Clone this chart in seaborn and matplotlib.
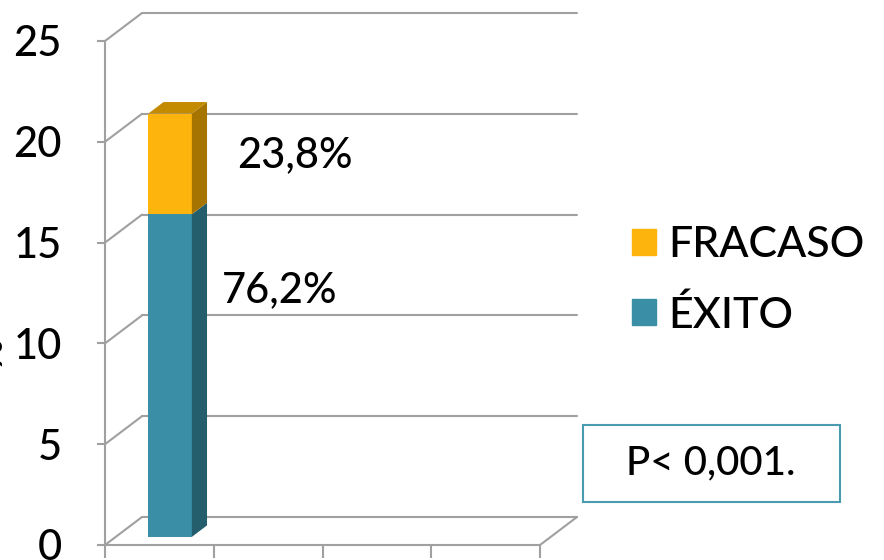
import numpy as np
import pandas as pd
import matplotlib
matplotlib.use("Agg")
import matplotlib.pyplot as plt
from matplotlib.patches import Polygon, Patch, Rectangle
import seaborn as sns

# ── Data ────────────────────────────────────────────────────────────────────
categories = ["Pacientes"]
exito = [16]
fracaso = [5]
series_names = ["FRACASO", "ÉXITO"]
y_ticks = [0, 5, 10, 15, 20, 25]
p_text = "P< 0,001."

# ── Palette ─────────────────────────────────────────────────────────────────
YELLOW = "#FDB50E"
YELLOW_TOP = "#C48A00"
YELLOW_SIDE = "#A67400"
TEAL = "#3A8FA6"
TEAL_SIDE = "#245D6B"
GRID = "#A0A0A0"
BOX = "#4A9AB0"

sns.set_theme(style="white")
plt.rcParams["font.family"] = ["Lato", "DejaVu Sans"]
plt.rcParams["font.weight"] = "medium"
plt.rcParams["text.color"] = "black"

W, H = 884, 560
fig = plt.figure(figsize=(W / 100, H / 100), dpi=100, facecolor="white")
ax = fig.add_axes([105 / W, 15 / H, 435 / W, 504 / H])
ax.set_facecolor("none")
ax.set_xlim(0, 4)
ax.set_ylim(0, 25)

# depth of the 3D box, in data units
DX = 37 / 435 * 4
DY = 28 / 504 * 25

# back wall, side wall and floor
for v in y_ticks:
    ax.plot([DX, 4 + DX], [v + DY, v + DY], color=GRID, lw=1.5, clip_on=False, zorder=1)
    ax.plot([0, DX], [v, v + DY], color=GRID, lw=1.5, clip_on=False, zorder=1)
ax.plot([4, 4 + DX], [0, DY], color=GRID, lw=1.5, clip_on=False, zorder=1)

# ── 3D stacked bar ──────────────────────────────────────────────────────────
f0, f1 = 0.29, 0.70
ox, oy = f0 * DX, f0 * DY
bdx, bdy = (f1 - f0) * DX, (f1 - f0) * DY
width = 0.4
xs = np.arange(len(categories)) + 0.5

df = pd.DataFrame({"cat": categories, "exito": exito, "fracaso": fracaso})
df["total"] = df["exito"] + df["fracaso"]

for i, row in df.iterrows():
    x0 = xs[i] - width / 2 + ox
    x1 = x0 + width
    segs = [(0, row["exito"], TEAL, TEAL_SIDE),
            (row["exito"], row["fracaso"], YELLOW, YELLOW_SIDE)]
    for bottom, h, c_front, c_side in segs:
        b, t = bottom + oy, bottom + h + oy
        ax.bar(x0, h, width=width, bottom=b, align="edge", color=c_front,
               edgecolor="none", zorder=3)
        ax.add_patch(Polygon([(x1, b), (x1 + bdx, b + bdy), (x1 + bdx, t + bdy), (x1, t)],
                             closed=True, fc=c_side, ec="none", zorder=3, clip_on=False))
    top = row["total"] + oy
    ax.add_patch(Polygon([(x0, top), (x1, top), (x1 + bdx, top + bdy), (x0 + bdx, top + bdy)],
                         closed=True, fc=YELLOW_TOP, ec="none", zorder=3, clip_on=False))

    pct_e = row["exito"] / row["total"] * 100
    pct_f = row["fracaso"] / row["total"] * 100
    ax.text(1.076, 12.65, f"{pct_e:.1f}%".replace(".", ","), fontsize=30,
            va="center", ha="left", color="black", zorder=5)
    ax.text(1.214, 19.35, f"{pct_f:.1f}%".replace(".", ","), fontsize=30,
            va="center", ha="left", color="black", zorder=5)

# ── Axes styling ────────────────────────────────────────────────────────────
for s in ["top", "right"]:
    ax.spines[s].set_visible(False)
for s in ["left", "bottom"]:
    ax.spines[s].set_color(GRID)
    ax.spines[s].set_linewidth(1.5)
ax.set_yticks(y_ticks)
ax.set_yticklabels([str(v) for v in y_ticks], fontsize=30, color="black")
ax.set_xticks([0, 1, 2, 3, 4])
ax.set_xticklabels([])
ax.tick_params(axis="y", left=True, length=6, width=1.5, color=GRID, pad=25)
ax.tick_params(axis="x", bottom=True, length=9.5, width=1.5, color=GRID)
ax.grid(False)

fig.text(8 / W, 1 - 352 / H, "%", rotation=90, fontsize=28, ha="right", va="center")

# legend
handles = [Patch(color=YELLOW, label=series_names[0]),
           Patch(color=TEAL, label=series_names[1])]
fig.legend(handles=handles, loc="upper left", bbox_to_anchor=(632 / W, 1 - 226 / H),
           frameon=False, fontsize=31, handlelength=0.56, handleheight=0.56,
           handletextpad=0.28, labelspacing=0.72, borderpad=0, borderaxespad=0)

# p-value box
fig.patches.append(Rectangle((583 / W, 1 - 502 / H), 257 / W, 77 / H,
                             transform=fig.transFigure, fc="white", ec=BOX, lw=1.5))
fig.text(711 / W, 1 - 463 / H, p_text, fontsize=29, ha="center", va="center")

fig.savefig("out.png", dpi=100, facecolor="white")
